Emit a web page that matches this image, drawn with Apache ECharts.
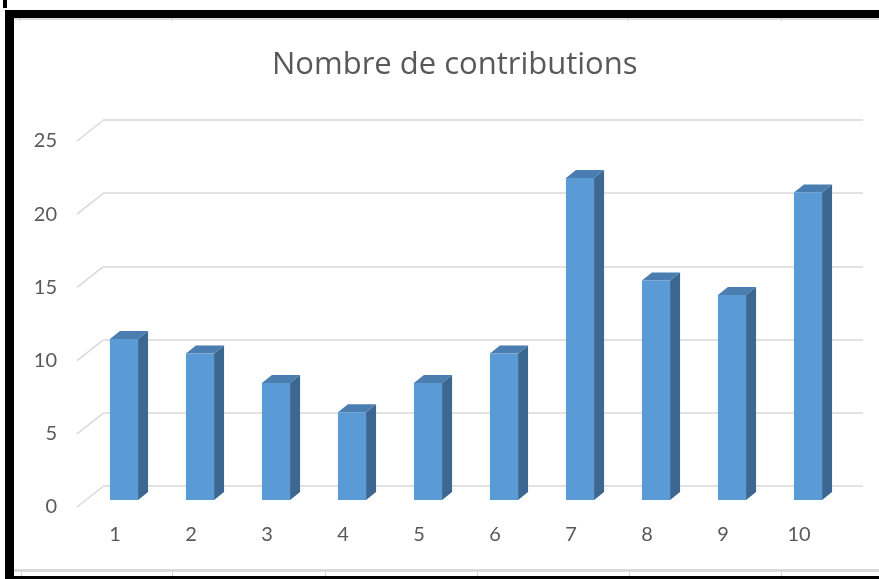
<!DOCTYPE html>
<html>
<head>
<meta charset="utf-8">
<script src="https://cdn.jsdelivr.net/npm/echarts@6/dist/echarts.min.js"></script>
<style>
html,body{margin:0;padding:0;background:#fff;}
#c{width:879px;height:579px;}
</style>
</head>
<body>
<div id="c"></div>
<script>
const categories = ['1','2','3','4','5','6','7','8','9','10'];
const contributions = [11, 10, 8, 6, 8, 10, 22, 15, 14, 21];
const yTicks = [0, 5, 10, 15, 20, 25];
const titleText = 'Nombre de contributions';

const FONT = 'Lato';
const TITLE_FONT = 'Open Sans';
const chart = echarts.init(document.getElementById('c'), null, {renderer: 'canvas'});

const W = 760, H = 366;
const grids = [
  {left: 103, top: 120, width: W, height: H},   // back wall
  {left: 86,  top: 134, width: W, height: H},   // bar front plane
  {left: 77,  top: 141, width: W, height: H}    // label (front) plane
];

function mkX(i, showLabel) {
  return {
    type: 'category', gridIndex: i, data: categories, boundaryGap: true,
    axisLine: {show: false}, axisTick: {show: false},
    axisLabel: {show: showLabel, color: '#595959', fontSize: 20, fontFamily: FONT, margin: 18}
  };
}
function mkY(i, showLabel, showSplit) {
  return {
    type: 'value', gridIndex: i, min: 0, max: 25, interval: 5,
    axisLine: {show: false}, axisTick: {show: false},
    axisLabel: {show: showLabel, color: '#595959', fontSize: 20, fontFamily: FONT, margin: 20},
    splitLine: {show: showSplit, lineStyle: {color: '#d9d9d9', width: 1.5}}
  };
}

const DX = 10, DY = 8;

option = {
  backgroundColor: '#ffffff',
  animation: false,
  title: {
    text: titleText, left: 267, top: 45,
    textStyle: {color: '#595959', fontSize: 31, fontWeight: 'normal', fontFamily: TITLE_FONT}
  },
  grid: grids,
  xAxis: [mkX(0, false), mkX(1, false), mkX(2, true)],
  yAxis: [mkY(0, false, true), mkY(1, false, false), mkY(2, true, false)],
  graphic: [
    {type: 'rect', shape: {x: 3, y: 0, width: 4, height: 8}, style: {fill: '#000'}},
    {type: 'rect', shape: {x: 5, y: 10, width: 874, height: 8}, style: {fill: '#000'}},
    {type: 'rect', shape: {x: 5, y: 10, width: 9, height: 569}, style: {fill: '#000'}},
    {type: 'rect', shape: {x: 5, y: 576, width: 874, height: 3}, style: {fill: '#000'}},
    {type: 'rect', shape: {x: 14, y: 18, width: 865, height: 2}, style: {fill: '#dcdcdc'}},
    {type: 'rect', shape: {x: 14, y: 569, width: 865, height: 3}, style: {fill: '#d9d9d9'}},
    ...[21, 172, 325, 477, 629, 781].map(x => ({type: 'rect', shape: {x: x, y: 572, width: 1, height: 4}, style: {fill: '#d0d0d0'}})),
    ...[20, 172, 628, 781].map(x => ({type: 'rect', shape: {x: x, y: 18, width: 1, height: 3}, style: {fill: '#d0d0d0'}}))
  ],
  series: [
    {
      type: 'custom', xAxisIndex: 2, yAxisIndex: 2,
      data: yTicks.map(v => [0, v]),
      silent: true,
      renderItem: function (params, api) {
        const p = api.coord([0, api.value(1)]);
        const bw = api.size([1, 0])[0];
        const x0 = p[0] - bw / 2;
        return {
          type: 'line',
          shape: {x1: x0, y1: p[1], x2: x0 + 26, y2: p[1] - 20.5},
          style: {stroke: '#d9d9d9', lineWidth: 1.5}
        };
      }
    },
    {
      type: 'custom', xAxisIndex: 1, yAxisIndex: 1,
      data: contributions.map((v, i) => [i, v]),
      renderItem: function (params, api) {
        const t = api.coord([api.value(0), api.value(1)]);
        const b = api.coord([api.value(0), 0]);
        const bw = api.size([1, 0])[0] * 0.37;
        const x = t[0] - bw / 2;
        return {
          type: 'group',
          children: [
            {type: 'polygon', shape: {points: [[x + bw, t[1]], [x + bw + DX, t[1] - DY], [x + bw + DX, b[1] - DY], [x + bw, b[1]]]},
             style: {fill: '#3b6790'}},
            {type: 'polygon', shape: {points: [[x, t[1]], [x + DX, t[1] - DY], [x + bw + DX, t[1] - DY], [x + bw, t[1]]]},
             style: {fill: '#4a7db0'}},
            {type: 'rect', shape: {x: x, y: t[1], width: bw, height: b[1] - t[1]},
             style: {fill: '#5b9bd5'}}
          ]
        };
      }
    }
  ]
};
chart.setOption(option);
</script>
</body>
</html>
